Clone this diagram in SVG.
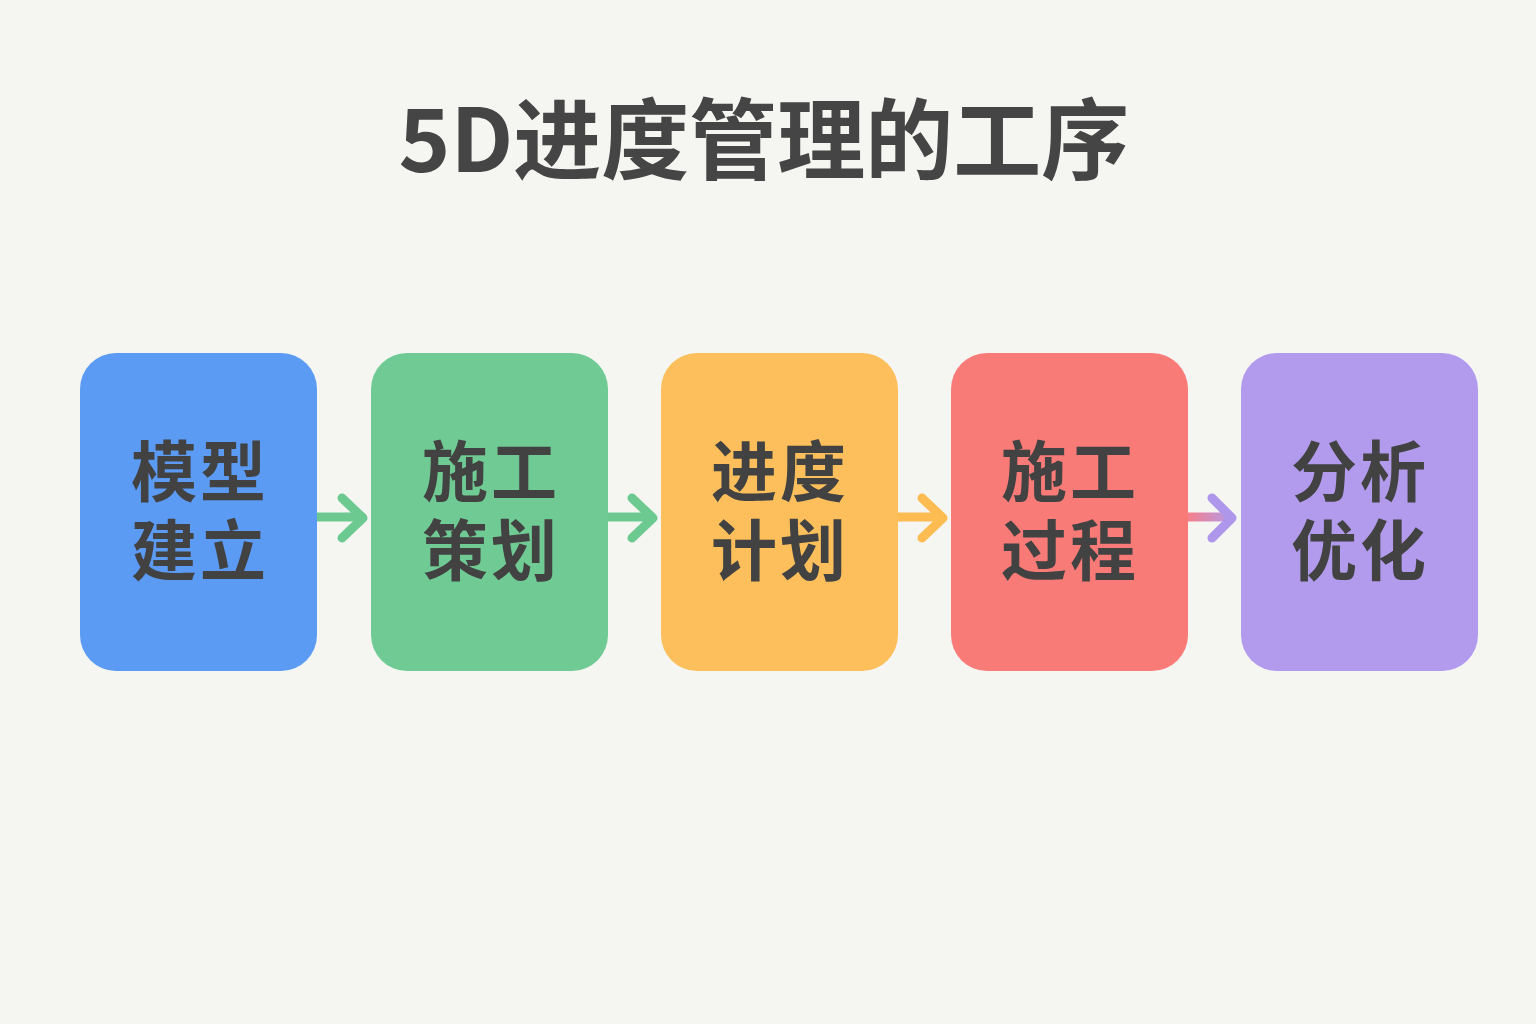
<svg xmlns="http://www.w3.org/2000/svg" width="1536" height="1024" viewBox="0 0 1536 1024">
<style>
.title{font-family:"Noto Sans CJK SC","Noto Sans",sans-serif;font-weight:700;font-size:88px;fill:#454545;}
.lbl{font-family:"Noto Sans CJK SC","Noto Sans",sans-serif;font-weight:700;font-size:66px;fill:#424242;letter-spacing:3px;}
.arr{fill:none;stroke-width:9;stroke-linecap:round;stroke-linejoin:round;}
</style>
<defs>
<linearGradient id="g4" gradientUnits="userSpaceOnUse" x1="1187" y1="0" x2="1232" y2="0"><stop offset="0" stop-color="#F77F88"/><stop offset="1" stop-color="#B39BEC"/></linearGradient>
</defs>
<rect width="1536" height="1024" fill="#F5F5F2"/>
<text class="title" x="764" y="133" text-anchor="middle" dominant-baseline="central">5D进度管理的工序</text>
<g id="connectors">
<g class="arr" stroke="#6CC98F"><path d="M317 517 H362"/><path d="M342 498 L363 518 L342 538"/></g>
<g class="arr" stroke="#6CC98F"><path d="M607 517 H651"/><path d="M632 498 L653 518 L632 538"/></g>
<g class="arr" stroke="#FCBC52"><path d="M897 517 H941"/><path d="M922 498 L943 518 L922 538"/></g>
<g class="arr"><path d="M1187 517 H1230" stroke="url(#g4)"/><path d="M1212 498 L1232 518 L1212 538" stroke="#AE96EA"/></g>
</g>
<g id="n1"><rect x="80" y="353" width="237" height="318" rx="36" fill="#5B9BF4"/><text class="lbl" x="200" y="467" text-anchor="middle" dominant-baseline="central">模型</text><text class="lbl" x="200" y="546" text-anchor="middle" dominant-baseline="central">建立</text></g>
<g id="n2"><rect x="371" y="353" width="237" height="318" rx="36" fill="#70CA94"/><text class="lbl" x="491" y="467" text-anchor="middle" dominant-baseline="central">施工</text><text class="lbl" x="491" y="546" text-anchor="middle" dominant-baseline="central">策划</text></g>
<g id="n3"><rect x="661" y="353" width="237" height="318" rx="36" fill="#FDBF5B"/><text class="lbl" x="780" y="467" text-anchor="middle" dominant-baseline="central">进度</text><text class="lbl" x="780" y="546" text-anchor="middle" dominant-baseline="central">计划</text></g>
<g id="n4"><rect x="951" y="353" width="237" height="318" rx="36" fill="#F97B78"/><text class="lbl" x="1070" y="467" text-anchor="middle" dominant-baseline="central">施工</text><text class="lbl" x="1070" y="546" text-anchor="middle" dominant-baseline="central">过程</text></g>
<g id="n5"><rect x="1241" y="353" width="237" height="318" rx="36" fill="#B29BEC"/><text class="lbl" x="1360" y="467" text-anchor="middle" dominant-baseline="central">分析</text><text class="lbl" x="1360" y="546" text-anchor="middle" dominant-baseline="central">优化</text></g>
</svg>
